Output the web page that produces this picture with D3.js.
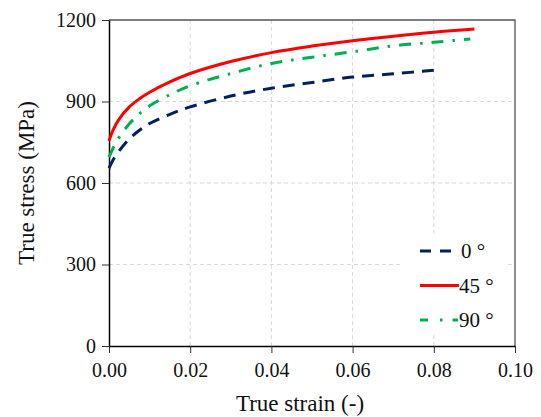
<!DOCTYPE html>
<html>
<head>
<meta charset="utf-8">
<script src="https://cdn.jsdelivr.net/npm/d3@7"></script>
<style>
  body { margin: 0; background: #fff; }
</style>
</head>
<body>
<div class="container"></div>
<script>
var w = 541;
var h = 417;
var margin = {top: 20, right: 26, bottom: 71, left: 109};
var iw = w - margin.left - margin.right;
var ih = h - margin.top - margin.bottom;
var serif = "'Liberation Serif', serif";

// data
var strain0 = [0, 0.001, 0.0025, 0.005, 0.0075, 0.01, 0.015, 0.02, 0.03, 0.04, 0.05, 0.06, 0.07, 0.08];
var stress0 = [655, 685, 718, 762, 794, 819, 853, 880, 920, 949, 970, 990, 1002, 1015];
var strain45 = [0, 0.001, 0.0025, 0.005, 0.0075, 0.01, 0.015, 0.02, 0.03, 0.04, 0.05, 0.06, 0.07, 0.08, 0.09];
var stress45 = [755, 795, 835, 880, 910, 934, 972, 1003, 1047, 1080, 1104, 1124, 1140, 1155, 1167];
var strain90 = [0, 0.001, 0.0025, 0.005, 0.0075, 0.01, 0.015, 0.02, 0.03, 0.04, 0.05, 0.06, 0.07, 0.08, 0.089];
var stress90 = [695, 728, 768, 818, 855, 884, 925, 958, 1003, 1040, 1063, 1083, 1105, 1118, 1130];

var xTicks = [0, 0.02, 0.04, 0.06, 0.08, 0.10];
var yTicks = [0, 300, 600, 900, 1200];
var seriesNames = ["0 °", "45 °", "90 °"];

var series = [
  {name: seriesNames[0], x: strain0, y: stress0, color: "#002060", dash: "12,8"},
  {name: seriesNames[1], x: strain45, y: stress45, color: "#ff0000", dash: null},
  {name: seriesNames[2], x: strain90, y: stress90, color: "#00b050", dash: "12,9,2.5,9"}
];

var svg = d3.select(".container").append("svg")
  .attr("width", w)
  .attr("height", h);

var g = svg.append("g").attr("transform", "translate(" + margin.left + "," + margin.top + ")");

var x = d3.scaleLinear().domain([0, 0.10]).range([0, iw]);
var y = d3.scaleLinear().domain([0, 1200]).range([ih, 0]);

// grid
g.append("g").selectAll("line").data(xTicks.slice(1, -1)).enter().append("line")
  .attr("x1", (d) => x(d)).attr("x2", (d) => x(d))
  .attr("y1", 0).attr("y2", ih)
  .attr("stroke", "#d9d9d9").attr("stroke-width", 1).attr("stroke-dasharray", "4,3");
g.append("g").selectAll("line").data(yTicks.slice(1, -1)).enter().append("line")
  .attr("y1", (d) => y(d)).attr("y2", (d) => y(d))
  .attr("x1", 0).attr("x2", iw)
  .attr("stroke", "#d9d9d9").attr("stroke-width", 1).attr("stroke-dasharray", "4,3");

// top / right border
g.append("path")
  .attr("d", "M0,0H" + iw + "V" + ih)
  .attr("fill", "none").attr("stroke", "#555").attr("stroke-width", 1.3);

// axes
var xAxis = g.append("g")
  .attr("transform", "translate(0," + ih + ")")
  .call(d3.axisBottom(x).tickValues(xTicks).tickFormat(d3.format(".2f")).tickSizeInner(7).tickSizeOuter(0).tickPadding(6));
var yAxis = g.append("g")
  .call(d3.axisLeft(y).tickValues(yTicks).tickFormat(d3.format("d")).tickSizeInner(7).tickSizeOuter(0).tickPadding(6));

[xAxis, yAxis].forEach(function (a) {
  a.select(".domain").attr("stroke", "#000").attr("stroke-width", 1.5);
  a.selectAll(".tick line").attr("stroke", "#333").attr("stroke-width", 1);
  a.selectAll("text").style("font-family", serif).style("font-size", "20px").attr("fill", "#111");
});
xAxis.selectAll("text").attr("dy", "0.9em");

// curves
var line = d3.line().curve(d3.curveCatmullRom.alpha(0.5));
series.forEach(function (s) {
  var pts = s.x.map((d, i) => [x(d), y(s.y[i])]);
  g.append("path")
    .attr("d", line(pts))
    .attr("fill", "none")
    .attr("stroke", s.color)
    .attr("stroke-width", 3)
    .attr("stroke-dasharray", s.dash);
});

// legend
var lg = g.append("g").attr("transform", "translate(" + (403 - margin.left) + "," + (233 - margin.top) + ")");
lg.append("rect").attr("width", 105).attr("height", 102).attr("fill", "#fff");
series.forEach(function (s, i) {
  var yy = 18 + i * 34.5;
  lg.append("line")
    .attr("x1", 17).attr("x2", i == 1 ? 56 : 55)
    .attr("y1", yy).attr("y2", yy)
    .attr("stroke", s.color).attr("stroke-width", 3)
    .attr("stroke-dasharray", i == 0 ? "11,9" : (i == 2 ? "8,12,2.5,10,12" : null));
  lg.append("text")
    .attr("x", i == 0 ? 58 : 56).attr("y", yy + 7)
    .style("font-family", serif)
    .style("font-size", "21px")
    .attr("fill", "#111")
    .text(s.name);
});

// axis titles
svg.append("text")
  .attr("x", margin.left + iw / 2 - 12).attr("y", 411)
  .attr("text-anchor", "middle")
  .style("font-family", serif)
  .style("font-size", "23px")
  .attr("fill", "#111")
  .text("True strain (-)");
svg.append("text")
  .attr("transform", "translate(34," + (margin.top + ih / 2) + ") rotate(-90)")
  .attr("text-anchor", "middle")
  .style("font-family", serif)
  .style("font-size", "23px")
  .attr("fill", "#111")
  .text("True stress (MPa)");
</script>
</body>
</html>
